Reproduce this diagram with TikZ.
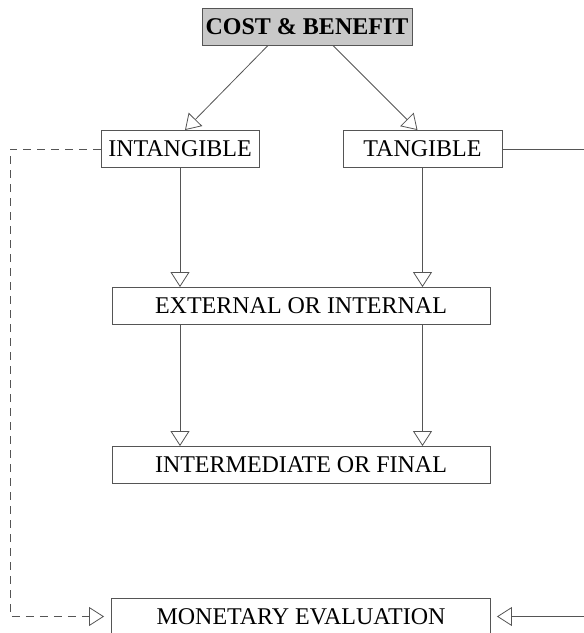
\documentclass[tikz,border=0pt]{standalone}
\usepackage{fontspec}
\setmainfont{Liberation Serif}
\usetikzlibrary{arrows.meta}
\definecolor{boxgray}{RGB}{200,200,200}
\definecolor{linegray}{RGB}{85,85,85}
\begin{document}
\begin{tikzpicture}[x=1pt,y=1pt,
    box/.style={draw=linegray, line width=0.9pt, inner sep=0pt, minimum height=37pt,
        font=\fontsize{24}{28}\selectfont},
    arr/.style={draw=linegray, line width=0.8pt,
        -{Triangle[open, length=15pt, width=19pt]}},
    dasharr/.style={arr, dash pattern=on 8pt off 6pt}]
    \useasboundingbox (0,0) rectangle (584,-633);
    \node[box, fill=boxgray, minimum width=210pt, font=\fontsize{24}{28}\selectfont\bfseries] (cost) at (307,-26.5) {COST \& BENEFIT};
    \node[box, minimum width=158pt] (intang) at (180,-149) {INTANGIBLE};
    \node[box, minimum width=159pt] (tang) at (422.5,-149) {TANGIBLE};
    \node[box, minimum width=378pt] (ext) at (301,-306) {EXTERNAL OR INTERNAL};
    \node[box, minimum width=378pt] (inter) at (301,-465) {INTERMEDIATE OR FINAL};
    \node[box, minimum width=379pt] (money) at (301,-616.5) {MONETARY EVALUATION};
    \coordinate (lbend) at (10,-149);
    \coordinate (rbend) at (600,-149);
    \draw[arr] ([xshift=-39pt]cost.south) -- ([xshift=5pt]intang.north);
    \draw[arr] ([xshift=26pt]cost.south) -- ([xshift=-5pt]tang.north);
    \draw[arr] (intang.south) -- (intang.south |- ext.north);
    \draw[arr] (tang.south) -- (tang.south |- ext.north);
    \draw[arr] (ext.south -| intang.south) -- (inter.north -| intang.south);
    \draw[arr] (ext.south -| tang.south) -- (inter.north -| tang.south);
    \draw[dasharr, shorten >=7pt] (intang.west) -- (lbend) |- (money.west);
    \draw[arr, shorten >=6pt] (tang.east) -- (rbend) |- (money.east);
\end{tikzpicture}
\end{document}
